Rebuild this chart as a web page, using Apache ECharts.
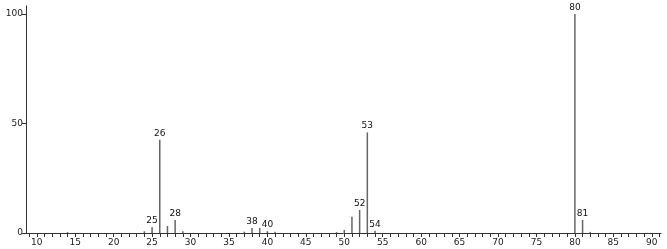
<!DOCTYPE html>
<html>
<head>
<meta charset="utf-8">
<script src="https://cdn.jsdelivr.net/npm/echarts@6/dist/echarts.min.js"></script>
<style>html,body{margin:0;padding:0;background:#fff}#c{width:667px;height:249px}</style>
</head>
<body>
<div id="c"></div>
<script>
const mz =        [14,  24,  25,  26,   27,  28,  29,  37,  38,  39,  40,  41,  49,  50,  51,  52,   53,   54,  80,  81,  82];
const intensity = [0.4, 0.8, 2.6, 42.6, 3.2, 5.9, 0.8, 0.6, 2.3, 2.3, 0.8, 0.6, 0.4, 1.4, 7.4, 10.5, 45.9, 1.0, 100, 5.9, 0.5];
const labeled =   [25, 26, 28, 38, 40, 52, 53, 54, 80, 81];
const xLabelStep = 5;
const yTicks = [0, 50, 100];

// layout: plot area pixel range for the data axis
const X0 = 8.6, X1 = 91.2, PX0 = 26, PX1 = 661;
const Y1 = 103.6, PY0 = 233, PY1 = 6;
const pxPerX = (PX1 - PX0) / (X1 - X0);
const pxPerY = (PY0 - PY1) / Y1;
const TX0 = Math.ceil(X0), TX1 = Math.floor(X1);

const data = mz.map((m, i) => ({
  value: [m, intensity[i]],
  label: { show: labeled.includes(m), formatter: String(m) }
}));

const axisColor = '#333';
const chart = echarts.init(document.getElementById('c'));
chart.setOption({
  animation: false,
  grid: [
    { left: PX0, right: 667 - PX1, top: PY1, bottom: 249 - PY0 },
    { left: PX0 + (TX0 - X0) * pxPerX, right: 667 - (PX1 - (X1 - TX1) * pxPerX),
      top: PY0 - 100 * pxPerY, bottom: 249 - PY0 }
  ],
  xAxis: [
    { gridIndex: 0, type: 'value', min: X0, max: X1,
      splitLine: { show: false },
      axisLine: { lineStyle: { color: axisColor, width: 1 } },
      axisTick: { show: false }, axisLabel: { show: false } },
    { gridIndex: 1, type: 'value', min: TX0, max: TX1, interval: 1,
      splitLine: { show: false },
      axisLine: { show: false },
      axisTick: { length: 4, lineStyle: { color: axisColor } },
      axisLabel: {
        margin: 5, fontSize: 9, color: '#222', fontFamily: 'DejaVu Sans',
        formatter: v => (Math.round(v) % xLabelStep === 0 ? String(Math.round(v)) : '')
      } }
  ],
  yAxis: [
    { gridIndex: 0, type: 'value', min: 0, max: Y1,
      splitLine: { show: false },
      axisLine: { show: true, lineStyle: { color: axisColor, width: 1 } },
      axisTick: { show: false }, axisLabel: { show: false } },
    { gridIndex: 1, type: 'value', min: 0, max: 100, interval: 50,
      offset: (TX0 - X0) * pxPerX,
      splitLine: { show: false },
      axisLine: { show: false },
      axisTick: { show: true, length: 4, lineStyle: { color: axisColor } },
      axisLabel: {
        margin: 3, fontSize: 9, color: '#222', fontFamily: 'DejaVu Sans',
        formatter: v => (yTicks.includes(v) ? String(v) : '')
      } }
  ],
  series: [{
    type: 'bar', xAxisIndex: 0, yAxisIndex: 0,
    barWidth: 1.5,
    itemStyle: { color: '#666' },
    label: { position: 'top', distance: 2, fontSize: 9, color: '#111', fontFamily: 'DejaVu Sans' },
    data: data
  }]
});
</script>
</body>
</html>
